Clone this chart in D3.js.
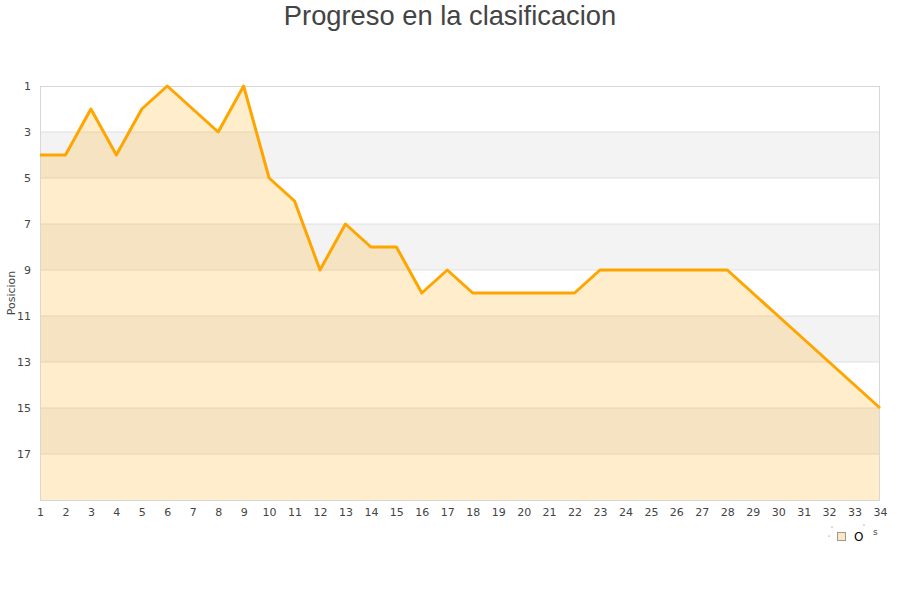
<!DOCTYPE html>
<html><head><meta charset="utf-8">
<script src="https://cdn.jsdelivr.net/npm/d3@7"></script>
<style>body{margin:0;background:#fff}</style>
</head><body>
<svg id="c" width="900" height="600"></svg>
<script>
const jornadas = d3.range(1, 35);
const posiciones = [4,4,2,4,2,1,2,3,1,5,6,9,7,8,8,10,9,10,10,10,10,10,9,9,9,9,9,9,10,11,12,13,14,15];
const yTicks = [1,3,5,7,9,11,13,15,17];
const title = "Progreso en la clasificacion";
const yLabel = "Posicion";

const svg = d3.select("#c");
const x = d3.scaleLinear().domain([1, 34]).range([40, 880]);
const y = d3.scaleLinear().domain([1, 19]).range([86, 500]);

// bands
const bands = d3.range(1, 19, 2);
svg.selectAll("rect.band").data(bands).enter().append("rect")
  .attr("x", x(1)).attr("width", x(34) - x(1))
  .attr("y", d => y(d)).attr("height", d => y(d + 2) - y(d))
  .attr("fill", (d, i) => i % 2 === 1 ? "#f3f3f3" : "#ffffff");

// grid lines
svg.selectAll("line.grid").data(yTicks.slice(1)).enter().append("line")
  .attr("x1", x(1)).attr("x2", x(34))
  .attr("y1", d => y(d)).attr("y2", d => y(d))
  .attr("stroke", "#e0e0e0").attr("stroke-width", 1);

const data = jornadas.map((j, i) => ({j, p: posiciones[i]}));

svg.append("path").datum(data)
  .attr("d", d3.area().x(d => x(d.j)).y0(y(19)).y1(d => y(d.p)))
  .attr("fill", "rgba(255,165,0,0.2)");

// frame
svg.append("rect").attr("x", x(1) + 0.5).attr("y", y(1) + 0.5)
  .attr("width", x(34) - x(1) - 1).attr("height", y(19) - y(1))
  .attr("fill", "none").attr("stroke", "#d8d8d8");

svg.append("path").datum(data)
  .attr("d", d3.line().x(d => x(d.j)).y(d => y(d.p)))
  .attr("fill", "none").attr("stroke", "#ffa500").attr("stroke-width", 3)
  .attr("stroke-linejoin", "round");

// axes
const yAxis = d3.axisLeft(y).tickValues(yTicks).tickSize(0).tickPadding(0);
const gy = svg.append("g").attr("transform", "translate(31,0)").call(yAxis);
gy.select(".domain").remove();
gy.selectAll("text").attr("font-family", "DejaVu Sans").attr("font-size", 11).attr("fill", "#444");

const xAxis = d3.axisBottom(x).tickValues(jornadas).tickSize(0).tickPadding(0);
const gx = svg.append("g").attr("transform", "translate(0,508)").call(xAxis);
gx.select(".domain").remove();
gx.selectAll("text").attr("font-family", "DejaVu Sans").attr("font-size", 11).attr("fill", "#444");

svg.append("text").attr("x", 450).attr("y", 25).attr("text-anchor", "middle")
  .attr("font-family", "Liberation Sans, Arial").attr("font-size", 27.3).attr("fill", "#444").text(title);

svg.append("text").attr("transform", "translate(15,293) rotate(-90)").attr("text-anchor", "middle")
  .attr("font-family", "DejaVu Sans").attr("font-size", 11).attr("fill", "#444").text(yLabel);

// legend
const lg = svg.append("g");
lg.append("rect").attr("x", 837.5).attr("y", 532.5).attr("width", 8).attr("height", 8)
  .attr("fill", "#ffe8c0").attr("stroke", "#999").attr("stroke-width", 1);
lg.append("text").attr("x", 854).attr("y", 541).attr("font-family", "DejaVu Sans").attr("font-size", 12).attr("fill", "#000").text("O");
lg.append("text").attr("x", 873).attr("y", 535).attr("font-family", "DejaVu Sans").attr("font-size", 9).attr("fill", "#444").text("s");
lg.selectAll("circle").data([[832,527],[829,536],[864,525]]).enter().append("circle")
  .attr("cx", d => d[0]).attr("cy", d => d[1]).attr("r", 0.6).attr("fill", "#666");
</script>
</body></html>
